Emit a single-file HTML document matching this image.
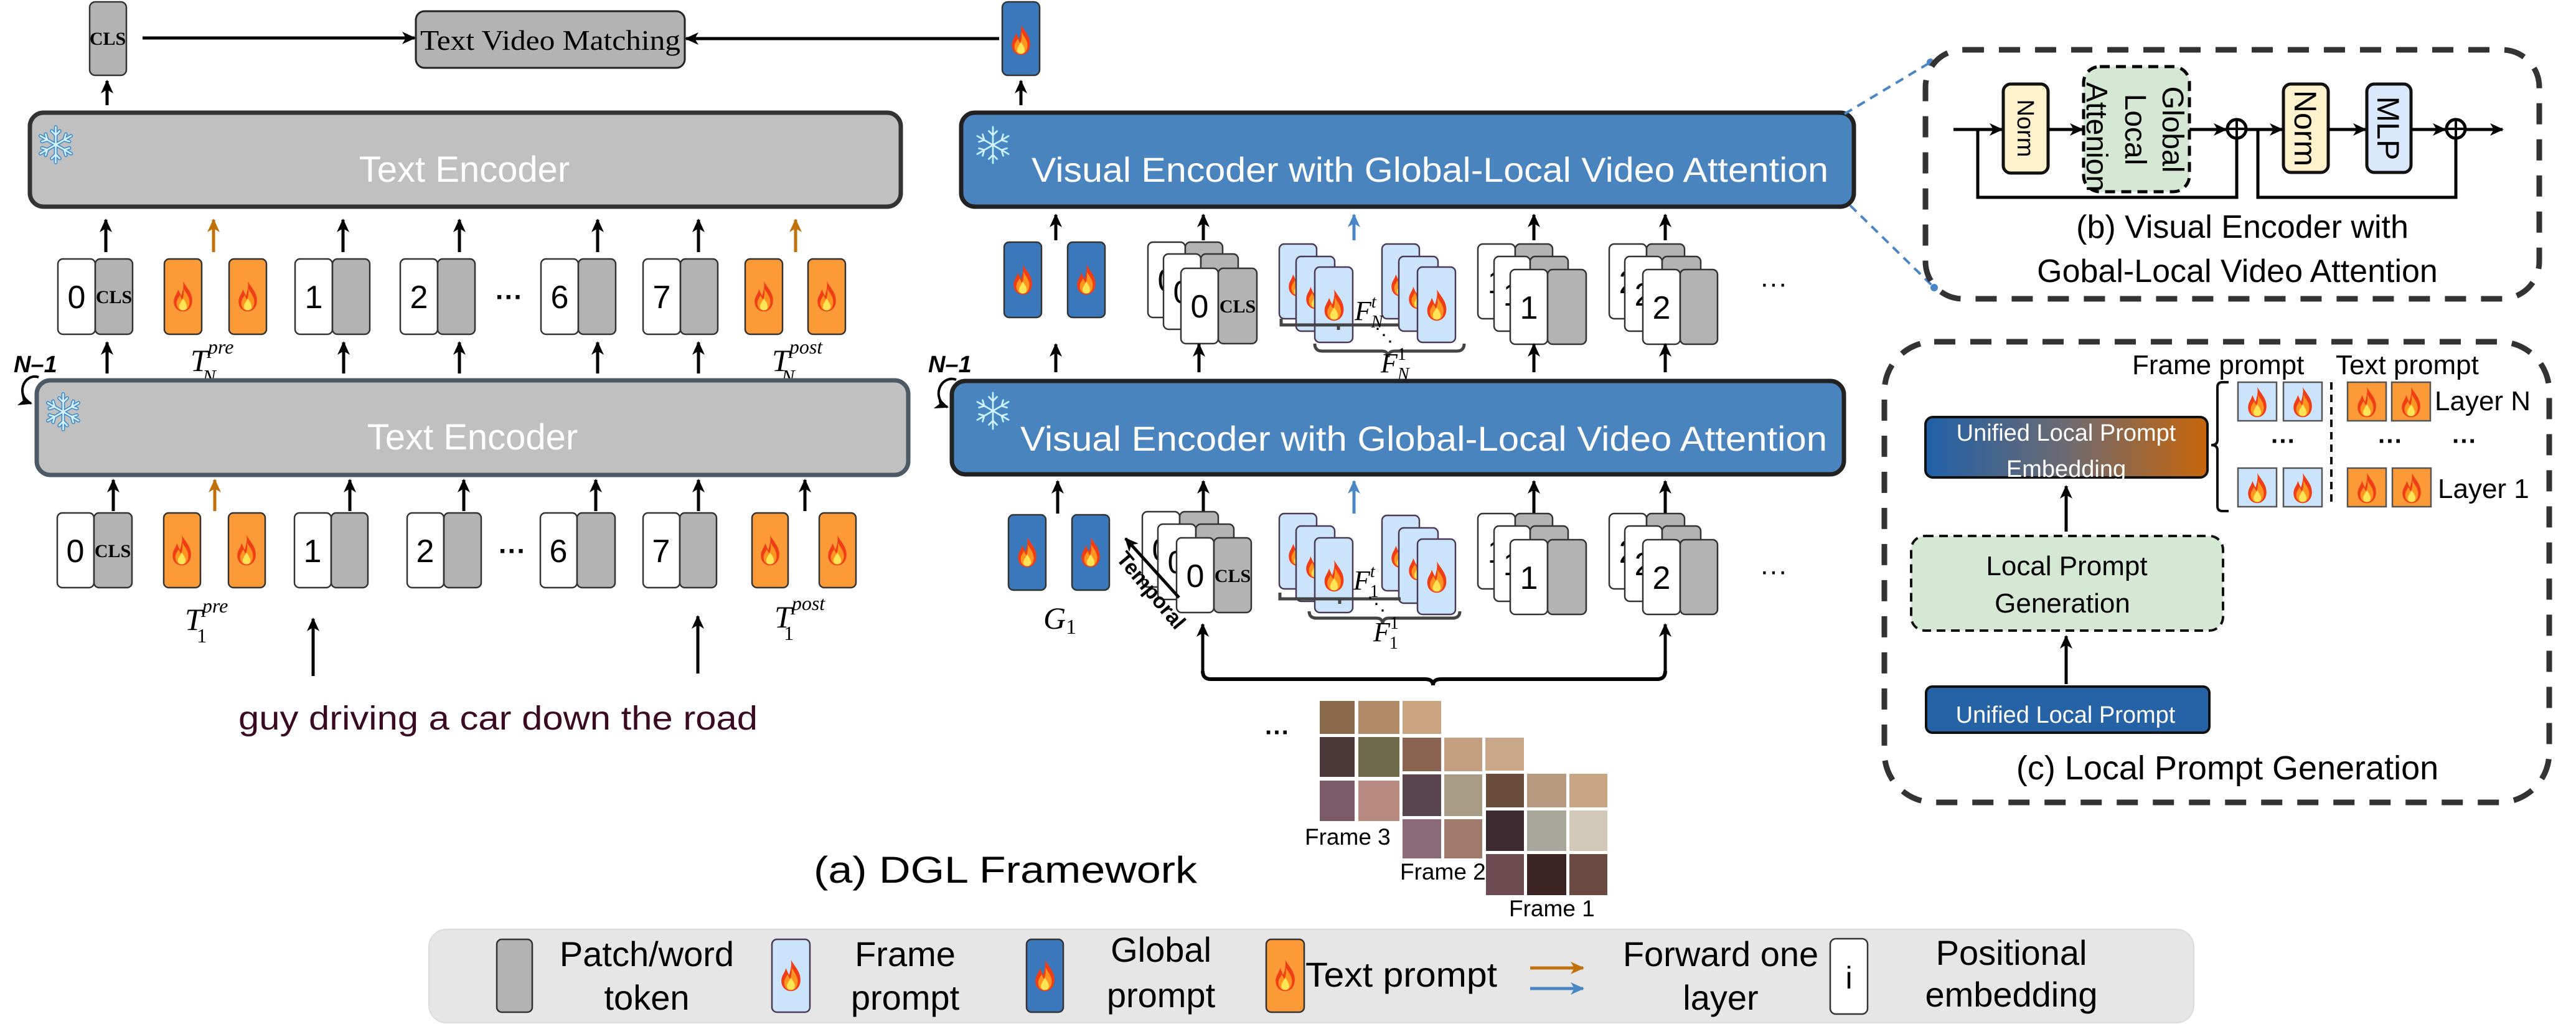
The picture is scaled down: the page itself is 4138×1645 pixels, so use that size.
<!DOCTYPE html>
<html><head><meta charset="utf-8"><style>
html,body{margin:0;padding:0;background:#fff}
svg{display:block}
.s{font-family:"Liberation Sans",sans-serif}
.sr{font-family:"Liberation Serif",serif}
.w{fill:#fff;stroke:#333;stroke-width:2.5}
.g{fill:#b3b3b3;stroke:#333;stroke-width:2.5}
.o{fill:#fd9a38;stroke:#333;stroke-width:2.5}
.lb{fill:#cce4fb;stroke:#4a3a55;stroke-width:2.5}
.b{fill:#3b77bb;stroke:#333;stroke-width:2.5}
.n{font-family:"Liberation Sans",sans-serif;font-size:52px;text-anchor:middle}
.cls{font-family:"Liberation Serif",serif;font-weight:bold;font-size:30px;text-anchor:middle}
.ar{stroke:#000;stroke-width:5;marker-end:url(#ak);fill:none}
.ao{stroke:#c0710c;stroke-width:5;marker-end:url(#ao);fill:none}
.ab{stroke:#4a86c5;stroke-width:5;marker-end:url(#abl);fill:none}
.dash{fill:none;stroke:#333;stroke-width:9;stroke-dasharray:34 24}
</style></head><body>
<svg width="4138" height="1645" viewBox="0 0 4138 1645" xmlns="http://www.w3.org/2000/svg">
<defs>
<marker id="ak" markerUnits="userSpaceOnUse" markerWidth="24" markerHeight="24" refX="20" refY="12" orient="auto"><path d="M0,2 L22,12 L0,22 L6,12 Z" fill="#000"/></marker>
<marker id="ao" markerUnits="userSpaceOnUse" markerWidth="24" markerHeight="24" refX="20" refY="12" orient="auto"><path d="M0,2 L22,12 L0,22 L6,12 Z" fill="#c0710c"/></marker>
<marker id="abl" markerUnits="userSpaceOnUse" markerWidth="24" markerHeight="24" refX="20" refY="12" orient="auto"><path d="M0,2 L22,12 L0,22 L6,12 Z" fill="#4a86c5"/></marker>
<symbol id="fl" viewBox="0 0 40 60">
<path d="M20 2 C28 16 38 24 37 40 C36 52 28 58 20 58 C12 58 3 52 3 40 C3 30 9 26 11 17 C14 23 15 27 17 29 C19 21 22 12 20 2 Z" fill="#ef3e16"/>
<path d="M21 16 C27 26 33 32 32 43 C31 52 26 56 20 56 C14 56 8 52 8 43 C8 36 12 33 14 28 C16 32 17 35 19 36 C21 30 22 24 21 16 Z" fill="#ff9520"/>
<path d="M20 34 C24 40 27 44 27 49 C27 54 24 56 20 56 C16 56 13 54 13 49 C13 44 17 40 20 34 Z" fill="#ffe556"/>
</symbol>
<symbol id="sf" viewBox="-50 -50 100 100">
<g stroke="#3f8ccc" stroke-width="9" stroke-linecap="round" fill="none">
<path d="M0,-44 V44 M-38,-22 L38,22 M-38,22 L38,-22"/>
<path d="M-10,-34 L0,-24 L10,-34 M-10,34 L0,24 L10,34 M-34,-8 L-21,-12 L-25,-26 M34,8 L21,12 L25,26 M-34,8 L-21,12 L-25,26 M34,-8 L21,-12 L25,-26"/>
</g>
<g stroke="#d6f1ff" stroke-width="4" stroke-linecap="round" fill="none">
<path d="M0,-44 V44 M-38,-22 L38,22 M-38,22 L38,-22"/>
<path d="M-10,-34 L0,-24 L10,-34 M-10,34 L0,24 L10,34 M-34,-8 L-21,-12 L-25,-26 M34,8 L21,12 L25,26 M-34,8 L-21,12 L-25,26 M34,-8 L21,-12 L25,-26"/>
</g>
</symbol>
<linearGradient id="grd" x1="0" x2="1" y1="0" y2="0"><stop offset="0" stop-color="#2060a8"/><stop offset="0.5" stop-color="#6c6a70"/><stop offset="1" stop-color="#c8650a"/></linearGradient>
</defs>

<!-- ========== TOP ========== -->
<rect x="144" y="3" width="59" height="118" rx="9" class="g" stroke-width="3"/>
<text x="173" y="72" class="cls">CLS</text>
<line x1="172" y1="169" x2="172" y2="130" class="ar"/>
<rect x="668" y="18" width="432" height="91" rx="14" fill="#b3b3b3" stroke="#222" stroke-width="3"/>
<text x="884" y="80" class="sr" font-size="46" text-anchor="middle" textLength="418" lengthAdjust="spacingAndGlyphs">Text Video Matching</text>
<line x1="229" y1="61" x2="666" y2="61" class="ar"/>
<line x1="1605" y1="62" x2="1102" y2="62" class="ar"/>
<rect x="1610" y="3" width="60" height="118" rx="9" class="b"/>
<use href="#fl" x="1622" y="38" width="36" height="52"/>
<line x1="1640" y1="169" x2="1640" y2="130" class="ar"/>

<!-- ========== TEXT ENCODER TOP ========== -->
<rect x="48" y="181" width="1399" height="151" rx="22" fill="#c0c0c0" stroke="#333" stroke-width="7"/>
<use href="#sf" x="57" y="200" width="65" height="65"/>
<text x="746" y="292" class="s" font-size="58" fill="#fff" text-anchor="middle">Text Encoder</text>

<line x1="170" y1="405" x2="170" y2="353" class="ar"/>
<line x1="343" y1="405" x2="343" y2="353" class="ao"/>
<line x1="551" y1="405" x2="551" y2="353" class="ar"/>
<line x1="738" y1="405" x2="738" y2="353" class="ar"/>
<line x1="960" y1="405" x2="960" y2="353" class="ar"/>
<line x1="1122" y1="405" x2="1122" y2="353" class="ar"/>
<line x1="1278" y1="405" x2="1278" y2="353" class="ao"/>

<!-- tokens row1 -->
<g>
<rect x="93" y="416" width="60" height="121" rx="8" class="w"/><text x="123" y="495" class="n">0</text>
<rect x="153" y="416" width="60" height="121" rx="8" class="g"/><text x="183" y="487" class="cls">CLS</text>
<rect x="264" y="416" width="60" height="121" rx="8" class="o"/><use href="#fl" x="276" y="450" width="36" height="52"/>
<rect x="368" y="416" width="60" height="121" rx="8" class="o"/><use href="#fl" x="380" y="450" width="36" height="52"/>
<rect x="474" y="416" width="60" height="121" rx="8" class="w"/><text x="504" y="495" class="n">1</text>
<rect x="534" y="416" width="60" height="121" rx="8" class="g"/>
<rect x="643" y="416" width="60" height="121" rx="8" class="w"/><text x="673" y="495" class="n">2</text>
<rect x="703" y="416" width="60" height="121" rx="8" class="g"/>
<text x="818" y="492" class="s" font-size="44" font-weight="bold" text-anchor="middle">···</text>
<rect x="869" y="416" width="60" height="121" rx="8" class="w"/><text x="899" y="495" class="n">6</text>
<rect x="929" y="416" width="60" height="121" rx="8" class="g"/>
<rect x="1033" y="416" width="60" height="121" rx="8" class="w"/><text x="1063" y="495" class="n">7</text>
<rect x="1093" y="416" width="60" height="121" rx="8" class="g"/>
<rect x="1197" y="416" width="60" height="121" rx="8" class="o"/><use href="#fl" x="1209" y="450" width="36" height="52"/>
<rect x="1298" y="416" width="60" height="121" rx="8" class="o"/><use href="#fl" x="1310" y="450" width="36" height="52"/>
</g>
<text x="306" y="596" class="sr" font-style="italic" font-size="50">T<tspan font-size="32" dy="-28">pre</tspan><tspan font-size="32" dx="-50" dy="48">N</tspan></text>
<text x="1240" y="596" class="sr" font-style="italic" font-size="50">T<tspan font-size="32" dy="-28">post</tspan><tspan font-size="32" dx="-66" dy="48">N</tspan></text>

<line x1="172" y1="600" x2="172" y2="550" class="ar"/>
<line x1="552" y1="600" x2="552" y2="550" class="ar"/>
<line x1="738" y1="600" x2="738" y2="550" class="ar"/>
<line x1="960" y1="600" x2="960" y2="550" class="ar"/>
<line x1="1122" y1="600" x2="1122" y2="550" class="ar"/>

<text x="22" y="598" class="s" font-size="38" font-weight="bold" font-style="italic">N–1</text>
<path d="M62,606 A20,22 0 1,0 50,648" fill="none" stroke="#000" stroke-width="4" marker-end="url(#ak)"/>

<!-- ========== TEXT ENCODER BOTTOM ========== -->
<rect x="59" y="611" width="1400" height="152" rx="22" fill="#c0c0c0" stroke="#4d5a66" stroke-width="7"/>
<use href="#sf" x="69" y="629" width="65" height="65"/>
<text x="759" y="722" class="s" font-size="58" fill="#fff" text-anchor="middle">Text Encoder</text>

<line x1="182" y1="821" x2="182" y2="771" class="ar"/>
<line x1="345" y1="821" x2="345" y2="771" class="ao"/>
<line x1="562" y1="821" x2="562" y2="771" class="ar"/>
<line x1="745" y1="821" x2="745" y2="771" class="ar"/>
<line x1="957" y1="821" x2="957" y2="771" class="ar"/>
<line x1="1122" y1="821" x2="1122" y2="771" class="ar"/>
<line x1="1293" y1="821" x2="1293" y2="771" class="ar"/>

<g>
<rect x="92" y="824" width="59" height="120" rx="8" class="w"/><text x="121" y="903" class="n">0</text>
<rect x="151" y="824" width="61" height="120" rx="8" class="g"/><text x="181" y="895" class="cls">CLS</text>
<rect x="263" y="824" width="59" height="120" rx="8" class="o"/><use href="#fl" x="274" y="858" width="36" height="52"/>
<rect x="367" y="824" width="59" height="120" rx="8" class="o"/><use href="#fl" x="378" y="858" width="36" height="52"/>
<rect x="473" y="824" width="59" height="120" rx="8" class="w"/><text x="502" y="903" class="n">1</text>
<rect x="532" y="824" width="59" height="120" rx="8" class="g"/>
<rect x="654" y="824" width="59" height="120" rx="8" class="w"/><text x="683" y="903" class="n">2</text>
<rect x="713" y="824" width="60" height="120" rx="8" class="g"/>
<text x="823" y="900" class="s" font-size="44" font-weight="bold" text-anchor="middle">···</text>
<rect x="868" y="824" width="59" height="120" rx="8" class="w"/><text x="897" y="903" class="n">6</text>
<rect x="927" y="824" width="61" height="120" rx="8" class="g"/>
<rect x="1033" y="824" width="59" height="120" rx="8" class="w"/><text x="1062" y="903" class="n">7</text>
<rect x="1092" y="824" width="59" height="120" rx="8" class="g"/>
<rect x="1208" y="824" width="58" height="120" rx="8" class="o"/><use href="#fl" x="1219" y="858" width="36" height="52"/>
<rect x="1316" y="824" width="59" height="120" rx="8" class="o"/><use href="#fl" x="1327" y="858" width="36" height="52"/>
</g>
<text x="297" y="1012" class="sr" font-style="italic" font-size="50">T<tspan font-size="32" dy="-28">pre</tspan><tspan font-size="32" font-style="normal" dx="-50" dy="48">1</tspan></text>
<text x="1244" y="1008" class="sr" font-style="italic" font-size="50">T<tspan font-size="32" dy="-28">post</tspan><tspan font-size="32" font-style="normal" dx="-66" dy="48">1</tspan></text>

<line x1="503" y1="1086" x2="503" y2="994" class="ar" stroke-width="4"/>
<line x1="1121" y1="1082" x2="1121" y2="990" class="ar" stroke-width="4"/>
<text x="383" y="1172" class="s" font-size="54" fill="#3a0a20" textLength="834" lengthAdjust="spacingAndGlyphs">guy driving a car down the road</text>

<!-- ========== VISUAL ENCODER TOP ========== -->
<rect x="1544" y="181" width="1434" height="151" rx="22" fill="#4a84bf" stroke="#222" stroke-width="7"/>
<use href="#sf" x="1562" y="200" width="66" height="66"/>
<text x="2297" y="292" class="s" font-size="56" fill="#fff" text-anchor="middle" textLength="1280" lengthAdjust="spacingAndGlyphs">Visual Encoder with Global-Local Video Attention</text>

<line x1="1696" y1="386" x2="1696" y2="345" class="ar"/>
<line x1="1933" y1="386" x2="1933" y2="345" class="ar"/>
<line x1="2175" y1="386" x2="2175" y2="345" class="ab"/>
<line x1="2464" y1="386" x2="2464" y2="345" class="ar"/>
<line x1="2675" y1="386" x2="2675" y2="345" class="ar"/>

<!-- row1 visual tokens -->
<rect x="1613" y="389" width="60" height="121" rx="8" class="b"/><use href="#fl" x="1625" y="423" width="36" height="52"/>
<rect x="1715" y="389" width="60" height="121" rx="8" class="b"/><use href="#fl" x="1727" y="423" width="36" height="52"/>

<rect x="1844" y="389" width="60" height="121" rx="8" class="w"/><text x="1874" y="468" class="n">0</text>
<rect x="1904" y="389" width="60" height="121" rx="8" class="g"/>
<rect x="1869" y="408" width="60" height="121" rx="8" class="w"/><text x="1899" y="487" class="n">0</text>
<rect x="1929" y="408" width="60" height="121" rx="8" class="g"/>
<rect x="1897" y="431" width="60" height="121" rx="8" class="w"/><text x="1927" y="510" class="n">0</text>
<rect x="1957" y="431" width="62" height="121" rx="8" class="g"/><text x="1988" y="502" class="cls">CLS</text>

<rect x="2055" y="392" width="60" height="120" rx="8" class="lb"/><use href="#fl" x="2067" y="426" width="36" height="52"/>
<rect x="2082" y="412" width="62" height="120" rx="8" class="lb"/><use href="#fl" x="2095" y="446" width="36" height="52"/>
<rect x="2112" y="429" width="61" height="121" rx="8" class="lb"/><use href="#fl" x="2124" y="463" width="38" height="54"/>
<rect x="2220" y="392" width="60" height="120" rx="8" class="lb"/><use href="#fl" x="2232" y="426" width="36" height="52"/>
<rect x="2247" y="412" width="63" height="120" rx="8" class="lb"/><use href="#fl" x="2260" y="446" width="36" height="52"/>
<rect x="2277" y="429" width="61" height="121" rx="8" class="lb"/><use href="#fl" x="2289" y="463" width="38" height="54"/>
<path d="M2058,512 v10 h190 M2150,522 v8" fill="none" stroke="#444" stroke-width="5"/>
<text x="2176" y="514" class="sr" font-style="italic" font-size="44">F<tspan font-size="28" dy="-20">t</tspan><tspan font-size="28" dx="-8" dy="32">N</tspan></text>
<text x="2208" y="548" class="sr" font-size="30">⋱</text>
<path d="M2112,552 q0,12 12,12 h96 q10,0 10,10 q0,-10 10,-10 h100 q12,0 12,-12" fill="none" stroke="#444" stroke-width="5"/>
<text x="2218" y="598" class="sr" font-style="italic" font-size="44">F<tspan font-size="28" font-style="normal" dy="-20">1</tspan><tspan font-size="28" dx="-14" dy="32">N</tspan></text>

<rect x="2374" y="392" width="60" height="120" rx="8" class="w"/><text x="2404" y="471" class="n">1</text>
<rect x="2434" y="392" width="60" height="120" rx="8" class="g"/>
<rect x="2400" y="412" width="58" height="120" rx="8" class="w"/><text x="2429" y="491" class="n">1</text>
<rect x="2458" y="412" width="61" height="120" rx="8" class="g"/>
<rect x="2426" y="433" width="60" height="120" rx="8" class="w"/><text x="2456" y="512" class="n">1</text>
<rect x="2486" y="433" width="62" height="120" rx="8" class="g"/>

<rect x="2585" y="392" width="60" height="120" rx="8" class="w"/><text x="2615" y="471" class="n">2</text>
<rect x="2645" y="392" width="61" height="120" rx="8" class="g"/>
<rect x="2610" y="412" width="60" height="120" rx="8" class="w"/><text x="2640" y="491" class="n">2</text>
<rect x="2670" y="412" width="62" height="120" rx="8" class="g"/>
<rect x="2639" y="433" width="60" height="120" rx="8" class="w"/><text x="2669" y="512" class="n">2</text>
<rect x="2699" y="433" width="60" height="120" rx="8" class="g"/>
<text x="2849" y="470" class="s" font-size="44" text-anchor="middle">···</text>

<line x1="1696" y1="598" x2="1696" y2="553" class="ar"/>
<line x1="1926" y1="598" x2="1926" y2="553" class="ar"/>
<line x1="2464" y1="598" x2="2464" y2="553" class="ar"/>
<line x1="2675" y1="598" x2="2675" y2="553" class="ar"/>

<text x="1491" y="598" class="s" font-size="38" font-weight="bold" font-style="italic">N–1</text>
<path d="M1536,610 A20,22 0 1,0 1522,654" fill="none" stroke="#000" stroke-width="4" marker-end="url(#ak)"/>

<!-- ========== VISUAL ENCODER BOTTOM ========== -->
<rect x="1529" y="612" width="1433" height="150" rx="22" fill="#4a84bf" stroke="#222" stroke-width="7"/>
<use href="#sf" x="1562" y="627" width="66" height="66"/>
<text x="2287" y="724" class="s" font-size="56" fill="#fff" text-anchor="middle" textLength="1296" lengthAdjust="spacingAndGlyphs">Visual Encoder with Global-Local Video Attention</text>

<line x1="1699" y1="825" x2="1699" y2="773" class="ar"/>
<line x1="1933" y1="862" x2="1933" y2="773" class="ar"/>
<line x1="2175" y1="825" x2="2175" y2="773" class="ab"/>
<line x1="2464" y1="825" x2="2464" y2="773" class="ar"/>
<line x1="2675" y1="825" x2="2675" y2="773" class="ar"/>

<rect x="1620" y="827" width="60" height="121" rx="8" class="b"/><use href="#fl" x="1632" y="861" width="36" height="52"/>
<rect x="1722" y="827" width="60" height="121" rx="8" class="b"/><use href="#fl" x="1734" y="861" width="36" height="52"/>
<text x="1676" y="1010" class="sr" font-style="italic" font-size="50">G<tspan font-size="34" font-style="normal" dy="8">1</tspan></text>

<rect x="1835" y="822" width="60" height="121" rx="8" class="w"/><text x="1865" y="901" class="n">0</text>
<rect x="1895" y="822" width="62" height="121" rx="8" class="g"/>
<rect x="1860" y="842" width="61" height="121" rx="8" class="w"/><text x="1890" y="921" class="n">0</text>
<rect x="1921" y="842" width="61" height="121" rx="8" class="g"/>
<rect x="1890" y="864" width="60" height="120" rx="8" class="w"/><text x="1920" y="943" class="n">0</text>
<rect x="1950" y="864" width="60" height="120" rx="8" class="g"/><text x="1980" y="935" class="cls">CLS</text>
<line x1="1894" y1="960" x2="1808" y2="865" class="ar" stroke-width="4"/>
<text transform="translate(1792,898) rotate(50)" class="s" font-size="34" font-weight="bold">Temporal</text>

<rect x="2055" y="825" width="60" height="121" rx="8" class="lb"/><use href="#fl" x="2067" y="859" width="36" height="52"/>
<rect x="2082" y="845" width="62" height="121" rx="8" class="lb"/><use href="#fl" x="2095" y="879" width="36" height="52"/>
<rect x="2112" y="864" width="61" height="120" rx="8" class="lb"/><use href="#fl" x="2124" y="898" width="38" height="54"/>
<rect x="2220" y="828" width="60" height="121" rx="8" class="lb"/><use href="#fl" x="2232" y="862" width="36" height="52"/>
<rect x="2247" y="848" width="63" height="121" rx="8" class="lb"/><use href="#fl" x="2260" y="882" width="36" height="52"/>
<rect x="2277" y="866" width="61" height="121" rx="8" class="lb"/><use href="#fl" x="2289" y="900" width="38" height="54"/>
<path d="M2056,952 v10 h194 M2152,962 v8" fill="none" stroke="#444" stroke-width="5"/>
<text x="2174" y="947" class="sr" font-style="italic" font-size="44">F<tspan font-size="28" dy="-20">t</tspan><tspan font-size="28" font-style="normal" dx="-8" dy="32">1</tspan></text>
<text x="2196" y="980" class="sr" font-size="30">⋱</text>
<path d="M2103,982 q0,11 12,11 h96 q10,0 10,10 q0,-10 10,-10 h102 q12,0 12,-11" fill="none" stroke="#444" stroke-width="5"/>
<text x="2206" y="1030" class="sr" font-style="italic" font-size="44">F<tspan font-size="28" font-style="normal" dy="-20">1</tspan><tspan font-size="28" font-style="normal" dx="-14" dy="32">1</tspan></text>

<rect x="2374" y="825" width="60" height="121" rx="8" class="w"/><text x="2404" y="904" class="n">1</text>
<rect x="2434" y="825" width="60" height="121" rx="8" class="g"/>
<rect x="2400" y="845" width="58" height="121" rx="8" class="w"/><text x="2429" y="924" class="n">1</text>
<rect x="2458" y="845" width="61" height="121" rx="8" class="g"/>
<rect x="2426" y="867" width="60" height="120" rx="8" class="w"/><text x="2456" y="946" class="n">1</text>
<rect x="2486" y="867" width="62" height="120" rx="8" class="g"/>

<rect x="2585" y="825" width="60" height="121" rx="8" class="w"/><text x="2615" y="904" class="n">2</text>
<rect x="2645" y="825" width="61" height="121" rx="8" class="g"/>
<rect x="2610" y="845" width="60" height="121" rx="8" class="w"/><text x="2640" y="924" class="n">2</text>
<rect x="2670" y="845" width="62" height="121" rx="8" class="g"/>
<rect x="2639" y="867" width="60" height="120" rx="8" class="w"/><text x="2669" y="946" class="n">2</text>
<rect x="2699" y="867" width="60" height="120" rx="8" class="g"/>
<text x="2849" y="932" class="s" font-size="44" text-anchor="middle">···</text>

<!-- brace to frames -->
<path d="M1932,1078 q0,13 13,13 h344 q13,0 13,10 q0,-10 13,-10 h347 q13,0 13,-13" fill="none" stroke="#000" stroke-width="6"/>
<line x1="1932" y1="1078" x2="1932" y2="1003" class="ar"/>
<line x1="2675" y1="1078" x2="2675" y2="1003" class="ar"/>

<!-- frames -->
<text x="2052" y="1190" class="s" font-size="40" font-weight="bold" text-anchor="middle">···</text>
<g>
<rect x="2120" y="1126" width="56" height="53" fill="#8a6a4c"/><rect x="2182" y="1126" width="66" height="53" fill="#b08a66"/><rect x="2253" y="1126" width="62" height="53" fill="#c9a47e"/>
<rect x="2120" y="1184" width="56" height="64" fill="#4a3838"/><rect x="2182" y="1184" width="66" height="64" fill="#6c6a48"/>
<rect x="2120" y="1254" width="56" height="65" fill="#7a5a66"/><rect x="2182" y="1254" width="66" height="65" fill="#b88a80"/>
</g>
<g>
<rect x="2253" y="1185" width="62" height="54" fill="#8a6450"/><rect x="2320" y="1185" width="61" height="54" fill="#c4a080"/><rect x="2386" y="1185" width="62" height="53" fill="#c9a88a"/>
<rect x="2253" y="1244" width="62" height="67" fill="#5a4450"/><rect x="2320" y="1244" width="61" height="67" fill="#a89c86"/>
<rect x="2253" y="1316" width="62" height="63" fill="#8a6a78"/><rect x="2320" y="1316" width="61" height="63" fill="#a07a6c"/>
</g>
<g>
<rect x="2387" y="1243" width="61" height="54" fill="#6a4c3c"/><rect x="2453" y="1243" width="63" height="54" fill="#b89a80"/><rect x="2521" y="1243" width="61" height="54" fill="#c8a684"/>
<rect x="2387" y="1302" width="61" height="65" fill="#3c2a30"/><rect x="2453" y="1302" width="63" height="65" fill="#a8a69a"/><rect x="2521" y="1302" width="61" height="65" fill="#d2c8b8"/>
<rect x="2387" y="1372" width="61" height="66" fill="#6c4c50"/><rect x="2453" y="1372" width="63" height="66" fill="#3a2424"/><rect x="2521" y="1372" width="61" height="66" fill="#6a4a40"/>
</g>
<text x="2096" y="1357" class="s" font-size="37">Frame 3</text>
<text x="2249" y="1413" class="s" font-size="37">Frame 2</text>
<text x="2424" y="1472" class="s" font-size="37">Frame 1</text>

<text x="1307" y="1418" class="s" font-size="60" textLength="616" lengthAdjust="spacingAndGlyphs">(a) DGL Framework</text>

<!-- ========== LEGEND ========== -->
<rect x="689" y="1493" width="2835" height="150" rx="28" fill="#e6e6e6" stroke="#dcdcdc" stroke-width="2"/>
<rect x="798" y="1509" width="57" height="117" rx="8" class="g"/>
<text x="1039" y="1552" class="s" font-size="56" text-anchor="middle">Patch/word</text>
<text x="1039" y="1622" class="s" font-size="56" text-anchor="middle">token</text>
<rect x="1240" y="1509" width="61" height="117" rx="8" class="lb"/><use href="#fl" x="1252" y="1540" width="37" height="54"/>
<text x="1454" y="1552" class="s" font-size="56" text-anchor="middle">Frame</text>
<text x="1454" y="1622" class="s" font-size="56" text-anchor="middle">prompt</text>
<rect x="1649" y="1509" width="59" height="117" rx="8" class="b"/><use href="#fl" x="1660" y="1540" width="37" height="54"/>
<text x="1865" y="1545" class="s" font-size="56" text-anchor="middle">Global</text>
<text x="1865" y="1618" class="s" font-size="56" text-anchor="middle">prompt</text>
<rect x="2034" y="1509" width="61" height="117" rx="8" class="o"/><use href="#fl" x="2046" y="1540" width="37" height="54"/>
<text x="2097" y="1585" class="s" font-size="56" textLength="308" lengthAdjust="spacingAndGlyphs">Text prompt</text>
<line x1="2458" y1="1555" x2="2543" y2="1555" class="ao"/>
<line x1="2458" y1="1588" x2="2543" y2="1588" class="ab"/>
<text x="2764" y="1552" class="s" font-size="56" text-anchor="middle">Forward one</text>
<text x="2764" y="1622" class="s" font-size="56" text-anchor="middle">layer</text>
<rect x="2940" y="1508" width="60" height="121" rx="9" class="w"/>
<text x="2970" y="1588" class="s" font-size="50" text-anchor="middle">i</text>
<text x="3231" y="1550" class="s" font-size="56" text-anchor="middle">Positional</text>
<text x="3231" y="1617" class="s" font-size="56" text-anchor="middle">embedding</text>

<!-- ========== PANEL (b) ========== -->
<line x1="2963" y1="183" x2="3101" y2="100" stroke="#4a86c5" stroke-width="4" stroke-dasharray="14 10"/>
<circle cx="3101" cy="100" r="6" fill="#4a86c5"/>
<line x1="2972" y1="330" x2="3107" y2="462" stroke="#4a86c5" stroke-width="4" stroke-dasharray="14 10"/>
<circle cx="3107" cy="462" r="6" fill="#4a86c5"/>
<rect x="3093" y="80" width="986" height="400" rx="60" class="dash"/>

<line x1="3138" y1="208" x2="3216" y2="208" class="ar"/>
<path d="M3177,208 V317 H3593 V222" fill="none" stroke="#000" stroke-width="5"/>
<rect x="3218" y="135" width="72" height="143" rx="12" fill="#fff2cc" stroke="#111" stroke-width="5"/>
<text transform="translate(3254,206) rotate(90)" class="s" font-size="38" text-anchor="middle" y="13">Norm</text>
<line x1="3290" y1="208" x2="3345" y2="208" class="ar"/>
<rect x="3347" y="107" width="170" height="201" rx="26" fill="#d5e8d4" stroke="#000" stroke-width="5" stroke-dasharray="16 10"/>
<g transform="translate(3432,208) rotate(90)" class="s" font-size="48" text-anchor="middle">
<text y="-42">Global</text>
<text y="18">Local</text>
<text y="80" x="12">Attenion</text>
</g>
<line x1="3517" y1="208" x2="3576" y2="208" class="ar"/>
<circle cx="3593" cy="207" r="15" fill="none" stroke="#000" stroke-width="5"/>
<path d="M3578,207 H3608 M3593,192 V222" stroke="#000" stroke-width="4"/>
<line x1="3608" y1="208" x2="3666" y2="208" class="ar"/>
<path d="M3627,208 V317 H3945 V222" fill="none" stroke="#000" stroke-width="5"/>
<rect x="3668" y="135" width="72" height="142" rx="12" fill="#fff2cc" stroke="#111" stroke-width="5"/>
<text transform="translate(3704,206) rotate(90)" class="s" font-size="50" text-anchor="middle" y="18">Norm</text>
<line x1="3740" y1="208" x2="3800" y2="208" class="ar"/>
<rect x="3802" y="135" width="71" height="142" rx="12" fill="#dae8fc" stroke="#111" stroke-width="5"/>
<text transform="translate(3837,206) rotate(90)" class="s" font-size="50" text-anchor="middle" y="18">MLP</text>
<line x1="3873" y1="208" x2="3928" y2="208" class="ar"/>
<circle cx="3945" cy="207" r="15" fill="none" stroke="#000" stroke-width="5"/>
<path d="M3930,207 H3960 M3945,192 V222" stroke="#000" stroke-width="4"/>
<line x1="3960" y1="208" x2="4020" y2="208" class="ar"/>
<text x="3602" y="382" class="s" font-size="52" text-anchor="middle">(b) Visual Encoder with</text>
<text x="3594" y="453" class="s" font-size="52" text-anchor="middle">Gobal-Local Video Attention</text>

<!-- ========== PANEL (c) ========== -->
<rect x="3027" y="549" width="1068" height="740" rx="80" class="dash"/>
<text x="3425" y="601" class="s" font-size="44">Frame prompt</text>
<text x="3752" y="601" class="s" font-size="44">Text prompt</text>
<path d="M3580,614 h-10 q-8,0 -8,8 v85 q0,8 -10,8 q10,0 10,8 v90 q0,8 8,8 h10" fill="none" stroke="#111" stroke-width="4"/>
<rect x="3595" y="614" width="62" height="62" fill="#cce4fb" stroke="#555" stroke-width="2.5"/><use href="#fl" x="3608" y="620" width="36" height="52"/>
<rect x="3668" y="614" width="62" height="62" fill="#cce4fb" stroke="#555" stroke-width="2.5"/><use href="#fl" x="3681" y="620" width="36" height="52"/>
<rect x="3771" y="614" width="62" height="62" fill="#fd9a38" stroke="#555" stroke-width="2.5"/><use href="#fl" x="3784" y="620" width="36" height="52"/>
<rect x="3842" y="614" width="62" height="62" fill="#fd9a38" stroke="#555" stroke-width="2.5"/><use href="#fl" x="3855" y="620" width="36" height="52"/>
<text x="3911" y="659" class="s" font-size="44">Layer N</text>
<text x="3668" y="722" class="s" font-size="40" font-weight="bold" text-anchor="middle">···</text>
<text x="3840" y="722" class="s" font-size="40" font-weight="bold" text-anchor="middle">···</text>
<text x="3959" y="722" class="s" font-size="40" font-weight="bold" text-anchor="middle">···</text>
<rect x="3595" y="752" width="62" height="62" fill="#cce4fb" stroke="#555" stroke-width="2.5"/><use href="#fl" x="3608" y="758" width="36" height="52"/>
<rect x="3668" y="752" width="62" height="62" fill="#cce4fb" stroke="#555" stroke-width="2.5"/><use href="#fl" x="3681" y="758" width="36" height="52"/>
<rect x="3771" y="752" width="62" height="62" fill="#fd9a38" stroke="#555" stroke-width="2.5"/><use href="#fl" x="3784" y="758" width="36" height="52"/>
<rect x="3843" y="752" width="62" height="62" fill="#fd9a38" stroke="#555" stroke-width="2.5"/><use href="#fl" x="3856" y="758" width="36" height="52"/>
<text x="3916" y="800" class="s" font-size="44">Layer 1</text>
<line x1="3745" y1="614" x2="3745" y2="813" stroke="#111" stroke-width="4" stroke-dasharray="12 8"/>

<rect x="3093" y="670" width="453" height="97" rx="12" fill="url(#grd)" stroke="#111" stroke-width="4"/>
<text x="3319" y="708" class="s" font-size="38" fill="#fff" text-anchor="middle">Unified Local Prompt</text>
<text x="3319" y="766" class="s" font-size="38" fill="#fff" text-anchor="middle">Embedding</text>
<line x1="3319" y1="854" x2="3319" y2="781" class="ar"/>
<rect x="3070" y="861" width="501" height="152" rx="22" fill="#d5e8d4" stroke="#111" stroke-width="4" stroke-dasharray="14 9"/>
<text x="3320" y="924" class="s" font-size="44" text-anchor="middle">Local Prompt</text>
<text x="3313" y="984" class="s" font-size="44" text-anchor="middle">Generation</text>
<line x1="3319" y1="1099" x2="3319" y2="1022" class="ar"/>
<rect x="3094" y="1103" width="455" height="74" rx="10" fill="#2563a6" stroke="#111" stroke-width="4"/>
<text x="3318" y="1161" class="s" font-size="38" fill="#fff" text-anchor="middle">Unified Local Prompt</text>
<text x="3578" y="1252" class="s" font-size="54" text-anchor="middle">(c) Local Prompt Generation</text>
</svg>
</body></html>
